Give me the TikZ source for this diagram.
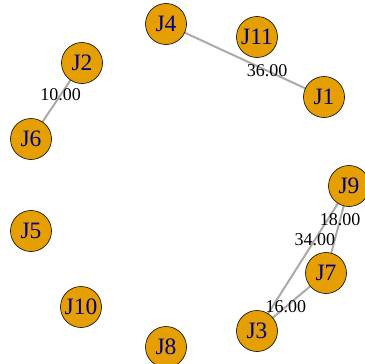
\documentclass[tikz,border=0pt]{standalone}
\usepackage{fontspec}
\setmainfont{Liberation Serif}
\usepackage{tikz}
\usetikzlibrary{backgrounds}
\definecolor{jobFill}{RGB}{230, 159, 0}
\definecolor{jobText}{RGB}{0, 0, 139}
\definecolor{edgeGray}{RGB}{170, 170, 170}

\begin{document}
\begin{tikzpicture}[
    x = 1pt, y = -1pt,
    job/.style = {circle, draw = black, line width = 0.6pt, fill = jobFill,
        minimum size = 41pt, inner sep = 0pt, text = jobText,
        font = \fontsize{23.5}{23.5}\selectfont},
    link/.style = {draw = edgeGray, line width = 2pt},
    weight/.style = {font = \fontsize{18}{18}\selectfont, inner sep = 0pt}
  ]
  \useasboundingbox (0,0) rectangle (364,364);

  \foreach \n/\x/\y in {J4/166/24, J11/257/37, J1/324/97, J2/82/63, J6/31/139,
      J5/31/231, J10/81/307, J8/166/347, J3/257/331, J7/326/273, J9/349/186}
  \node[job] (\n) at (\x,\y) {\n};

  % weighted links behind the jobs
  \begin{scope}[on background layer]
    \foreach \a/\b/\w/\p in {J4/J1/36.00/0.64, J2/J6/10.00/0.42, J9/J7/18.00/0.39,
        J9/J3/34.00/0.37, J7/J3/16.00/0.58}
    \path[link] (\a.center) -- (\b.center);
  \end{scope}

  \foreach \a/\b/\w/\p in {J4/J1/36.00/0.64, J2/J6/10.00/0.42, J9/J7/18.00/0.39,
      J9/J3/34.00/0.37, J7/J3/16.00/0.58}
  \path (\a.center) -- (\b.center) node[weight, pos = \p] {\w};
\end{tikzpicture}
\end{document}
